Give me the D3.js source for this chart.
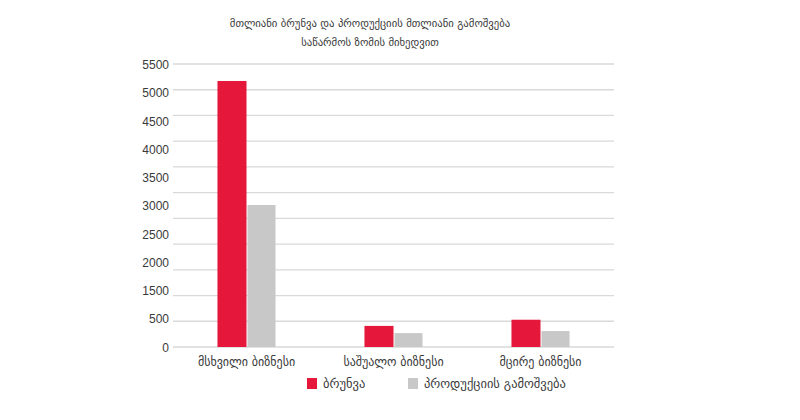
<!DOCTYPE html>
<html>
<head>
<meta charset="utf-8">
<script src="https://cdn.jsdelivr.net/npm/d3@7"></script>
<style>
  body { margin: 0; background: #fff; }
  svg { display: block; }
</style>
</head>
<body>
<script>
// chart data
const titleLines = [
    'მთლიანი ბრუნვა და პროდუქციის მთლიანი გამოშვება',
    'საწარმოს ზომის მიხედვით'
];
const categories = ['მსხვილი ბიზნესი', 'საშუალო ბიზნესი', 'მცირე ბიზნესი'];
const seriesNames = ['ბრუნვა', 'პროდუქციის გამოშვება'];
const turnover = [5170, 410, 530];
const output = [2760, 270, 310];
// the printed labels skip 1000 and are spread evenly, as in the original
const tickLabels = ['0', '500', '1500', '2000', '2500', '3000', '3500', '4000', '4500', '5000', '5500'];
const gridValues = d3.range(0, 5501, 500);

const width = 800;
const height = 420;
const margin = { top: 64, right: 186, bottom: 73, left: 173 };
const plotW = width - margin.left - margin.right;
const plotH = height - margin.top - margin.bottom;

const colors = ['#e5173b', '#c8c8c8'];
const geo = '"DejaVu Sans", sans-serif';

const svg = d3.select('body')
    .append('svg')
    .attr('width', width)
    .attr('height', height);

svg.append('rect')
    .attr('width', width)
    .attr('height', height)
    .attr('fill', 'white');

const g = svg.append('g')
    .attr('transform', `translate(${margin.left},${margin.top})`);

const y = d3.scaleLinear()
    .domain([0, 5500])
    .range([plotH, 0]);

const yLabel = d3.scalePoint()
    .domain(tickLabels)
    .range([plotH + 0.5, 1]);

const x0 = d3.scaleBand()
    .domain(categories)
    .range([0, plotW])
    .paddingInner(0.605)
    .paddingOuter(0.3025);

const x1 = d3.scaleBand()
    .domain(seriesNames)
    .range([0, x0.bandwidth()])
    .padding(0);

// Grid lines
g.append('g')
    .selectAll('line')
    .data(gridValues)
    .join('line')
    .attr('x1', 0)
    .attr('x2', plotW)
    .attr('y1', d => y(d))
    .attr('y2', d => y(d))
    .attr('stroke', '#d9d9d9')
    .attr('stroke-width', 1.3);

// Y labels (not aligned to grid, like the source)
g.append('g')
    .attr('font-family', 'Arial, "Liberation Sans", sans-serif')
    .attr('font-size', '12px')
    .attr('fill', '#3a3a3a')
    .attr('text-anchor', 'end')
    .selectAll('text')
    .data(tickLabels)
    .join('text')
    .attr('x', -4)
    .attr('y', d => yLabel(d))
    .attr('dy', '0.35em')
    .text(d => d);

// Bars
const rows = categories.map((c, i) => ({ cat: c, vals: [turnover[i], output[i]] }));

const groups = g.append('g')
    .selectAll('g')
    .data(rows)
    .join('g')
    .attr('transform', d => `translate(${x0(d.cat)},0)`);

groups.selectAll('rect')
    .data(d => d.vals.map((v, j) => ({ key: seriesNames[j], v, j })))
    .join('rect')
    .attr('x', d => x1(d.key) + (d.j === 1 ? 1 : 0))
    .attr('width', d => x1.bandwidth() - (d.j === 1 ? 1 : 0))
    .attr('y', d => y(d.v))
    .attr('height', d => plotH - y(d.v))
    .attr('fill', d => colors[d.j]);

// Category labels
g.append('g')
    .attr('font-family', geo)
    .attr('font-size', '12px')
    .attr('fill', '#3a3a3a')
    .attr('text-anchor', 'middle')
    .selectAll('text')
    .data(categories)
    .join('text')
    .attr('x', d => x0(d) + x0.bandwidth() / 2)
    .attr('y', plotH + 15)
    .attr('dy', '0.35em')
    .text(d => d);

// Title
svg.append('g')
    .attr('font-family', geo)
    .attr('font-size', '10.7px')
    .attr('fill', '#3a3a3a')
    .attr('text-anchor', 'middle')
    .selectAll('text')
    .data(titleLines)
    .join('text')
    .attr('x', 370)
    .attr('y', (d, i) => 23 + i * 19)
    .attr('dy', '0.35em')
    .text(d => d);

// Legend
const legendX = [307, 408];
const legend = svg.append('g')
    .attr('font-family', geo)
    .attr('font-size', '12.5px')
    .attr('fill', '#3a3a3a')
    .selectAll('g')
    .data(seriesNames)
    .join('g')
    .attr('transform', (d, i) => `translate(${legendX[i]},378)`);

legend.append('rect')
    .attr('width', 10)
    .attr('height', 11)
    .attr('fill', (d, i) => colors[i]);

legend.append('text')
    .attr('x', 16)
    .attr('y', 5.5)
    .attr('dy', '0.35em')
    .text(d => d);
</script>
</body>
</html>
